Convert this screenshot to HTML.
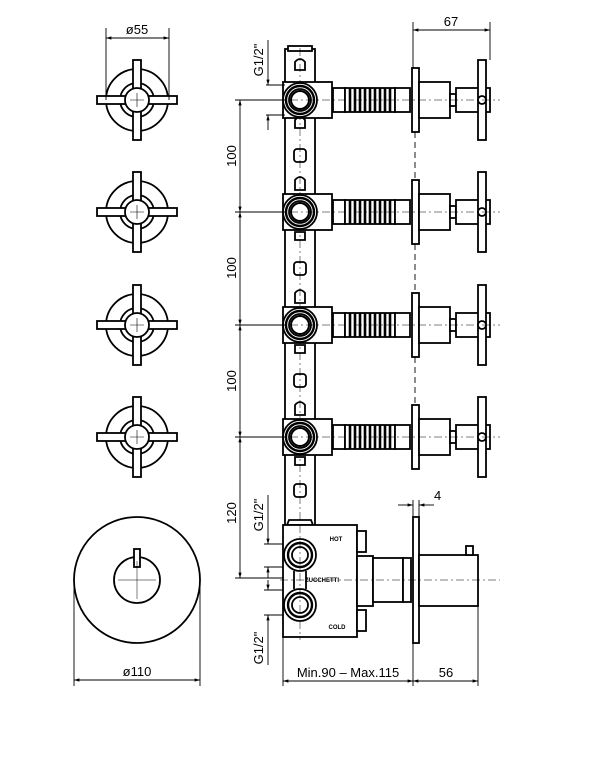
<!DOCTYPE html>
<html><head><meta charset="utf-8"><style>
html,body{margin:0;padding:0;background:#fff;}
svg{display:block}
text{font-family:"Liberation Sans",sans-serif;fill:#000}
</style></head><body>
<svg width="609" height="759" viewBox="0 0 609 759" xmlns="http://www.w3.org/2000/svg">
<defs>
<marker id="a" viewBox="0 0 10 10" refX="10" refY="5" markerWidth="8" markerHeight="6" orient="auto-start-reverse"><path d="M0,2 L10,5 L0,8 z" fill="#000"/></marker>
<g id="knob" fill="#fff" stroke="#000" stroke-width="1.8">
<circle cx="0" cy="0" r="31"/>
<circle cx="0" cy="0" r="17"/>
<rect x="-40" y="-4" width="80" height="8"/>
<rect x="-4" y="-40" width="8" height="80"/>
<circle cx="0" cy="0" r="12"/>
<path d="M-7,0 H7 M0,-7 V7" stroke-width="0.6"/>
</g>
<g id="row" stroke="#000" fill="#fff" stroke-width="1.8">
<rect x="283" y="-18" width="49" height="36"/>
<rect x="333" y="-12" width="12" height="24"/>
<rect x="345" y="-12" width="50" height="24"/>
<path d="M350,-12V12M355,-12V12M360,-12V12M365,-12V12M370,-12V12M375,-12V12M380,-12V12M385,-12V12M390,-12V12" stroke-width="2.6"/>
<rect x="395" y="-12" width="15" height="24"/>
<rect x="412" y="-32" width="7" height="64"/>
<rect x="419" y="-18" width="31" height="36"/>
<rect x="450" y="-6" width="6" height="12"/>
<rect x="456" y="-12" width="34" height="24"/>
<rect x="478" y="-40" width="8" height="80"/>
<circle cx="482" cy="0" r="4"/>
<circle cx="300" cy="0" r="17"/>
<circle cx="300" cy="0" r="14" stroke-width="2.4"/>
<circle cx="300" cy="0" r="11"/>
<circle cx="300" cy="0" r="9" stroke-width="2"/>
<path d="M290,0H500" stroke-width="0.5" stroke-dasharray="8,3,2,3"/>
</g>
</defs>

<use href="#knob" x="137" y="100"/>
<use href="#knob" x="137" y="212"/>
<use href="#knob" x="137" y="325"/>
<use href="#knob" x="137" y="437"/>
<g stroke="#000" stroke-width="0.9" fill="none">
<path d="M106,28V100M169,28V100"/>
<path d="M106,38H169" marker-start="url(#a)" marker-end="url(#a)"/>
</g>
<text x="137" y="34" font-size="13" text-anchor="middle">ø55</text>

<g stroke="#000" fill="none" stroke-width="1.8">
<circle cx="137" cy="580" r="63"/>
<circle cx="137" cy="580" r="23"/>
<rect x="134" y="549" width="6" height="18" fill="#fff"/>
<path d="M118,580H156M137,561V599" stroke-width="0.5"/>
<path d="M74,580V686M200,580V686" stroke-width="0.9"/>
<path d="M74,680H200" stroke-width="0.9" marker-start="url(#a)" marker-end="url(#a)"/>
</g>
<text x="137" y="676" font-size="13" text-anchor="middle">ø110</text>

<g stroke="#000" fill="#fff" stroke-width="1.8">
<rect x="285" y="49" width="30" height="480"/>
<rect x="288" y="46" width="24" height="5"/>
<path d="M295,62q5,-6 10,0v8h-10z"/>
<rect x="294" y="149" width="12" height="13" rx="3"/>
<rect x="294" y="262" width="12" height="13" rx="3"/>
<rect x="294" y="374" width="12" height="13" rx="3"/>
<rect x="294" y="484" width="12" height="13" rx="3"/>
<path d="M295,120v8h10v-8q-5,-6 -10,0z M295,180q5,-6 10,0v10h-10z M295,232v8h10v-8z M295,293q5,-6 10,0v10h-10z M295,345v8h10v-8z M295,405q5,-6 10,0v10h-10z M295,457v8h10v-8z"/>
</g>
<path d="M300,48V530" stroke="#000" stroke-width="0.5" stroke-dasharray="8,3,2,3"/>
<use href="#row" y="100"/>
<use href="#row" y="212"/>
<use href="#row" y="325"/>
<use href="#row" y="437"/>
<path d="M415,132V180M415,244V293M415,357V405" stroke="#000" stroke-width="0.9" stroke-dasharray="6,4"/>

<g stroke="#000" stroke-width="0.9" fill="none">
<path d="M413,22V68M490,22V60"/>
<path d="M413,30H490" marker-start="url(#a)" marker-end="url(#a)"/>
</g>
<text x="451" y="26" font-size="13" text-anchor="middle">67</text>

<g stroke="#000" stroke-width="0.9" fill="none">
<path d="M235,100H285M235,212H285M235,325H285M235,437H285M235,578H285"/>
<path d="M240,100V212" marker-start="url(#a)" marker-end="url(#a)"/>
<path d="M240,212V325" marker-start="url(#a)" marker-end="url(#a)"/>
<path d="M240,325V437" marker-start="url(#a)" marker-end="url(#a)"/>
<path d="M240,437V578" marker-start="url(#a)" marker-end="url(#a)"/>
<path d="M266,85H285M266,115H285"/>
<path d="M268,40V85" marker-end="url(#a)"/>
<path d="M268,130V115" marker-end="url(#a)"/>
<path d="M264,544H285M264,567H285M264,590H285M264,615H285"/>
<path d="M268,495V544" marker-end="url(#a)"/>
<path d="M268,578V567" marker-end="url(#a)"/>
<path d="M268,580V590" marker-end="url(#a)"/>
<path d="M268,665V615" marker-end="url(#a)"/>
</g>
<g font-size="13" text-anchor="middle">
<text transform="translate(236,156) rotate(-90)">100</text>
<text transform="translate(236,268) rotate(-90)">100</text>
<text transform="translate(236,381) rotate(-90)">100</text>
<text transform="translate(236,513) rotate(-90)">120</text>
<text transform="translate(263,60) rotate(-90)">G1/2"</text>
<text transform="translate(263,515) rotate(-90)">G1/2"</text>
<text transform="translate(263,648) rotate(-90)">G1/2"</text>
</g>

<g stroke="#000" fill="#fff" stroke-width="1.8">
<path d="M287,525l2,-5h22l2,5z"/>
<rect x="283" y="525" width="74" height="112"/>
<rect x="357" y="531" width="9" height="21"/>
<rect x="357" y="610" width="9" height="21"/>
<rect x="357" y="556" width="16" height="50"/>
<rect x="373" y="558" width="30" height="44"/>
<rect x="403" y="558" width="8" height="44"/>
<rect x="413" y="517" width="6" height="126"/>
<rect x="419" y="555" width="59" height="51"/>
<rect x="466" y="546" width="7" height="9"/>
<circle cx="300" cy="555" r="16"/><circle cx="300" cy="555" r="12" stroke-width="2.4"/><circle cx="300" cy="555" r="8"/>
<circle cx="300" cy="605" r="16"/><circle cx="300" cy="605" r="12" stroke-width="2.4"/><circle cx="300" cy="605" r="8"/>
<path d="M294,571v18M306,571v18" fill="none"/>
<path d="M280,580H500M300,525V640" stroke-width="0.5" stroke-dasharray="8,3,2,3" fill="none"/>
</g>
<g font-size="6" font-weight="bold" text-anchor="middle">
<text x="336" y="541">HOT</text>
<text x="322" y="582">ZUCCHETTI</text>
<text x="337" y="629">COLD</text>
</g>
<g stroke="#000" stroke-width="0.9" fill="none">
<path d="M413,500V517M419,500V517"/>
<path d="M398,505H413" marker-end="url(#a)"/>
<path d="M434,505H419" marker-end="url(#a)"/>
<path d="M283,637V686M413,643V686M478,606V686"/>
<path d="M283,681H413" marker-start="url(#a)" marker-end="url(#a)"/>
<path d="M413,681H478" marker-start="url(#a)" marker-end="url(#a)"/>
</g>
<text x="434" y="500" font-size="13">4</text>
<text x="348" y="677" font-size="13" text-anchor="middle">Min.90  –  Max.115</text>
<text x="446" y="677" font-size="13" text-anchor="middle">56</text>
</svg>
</body></html>
